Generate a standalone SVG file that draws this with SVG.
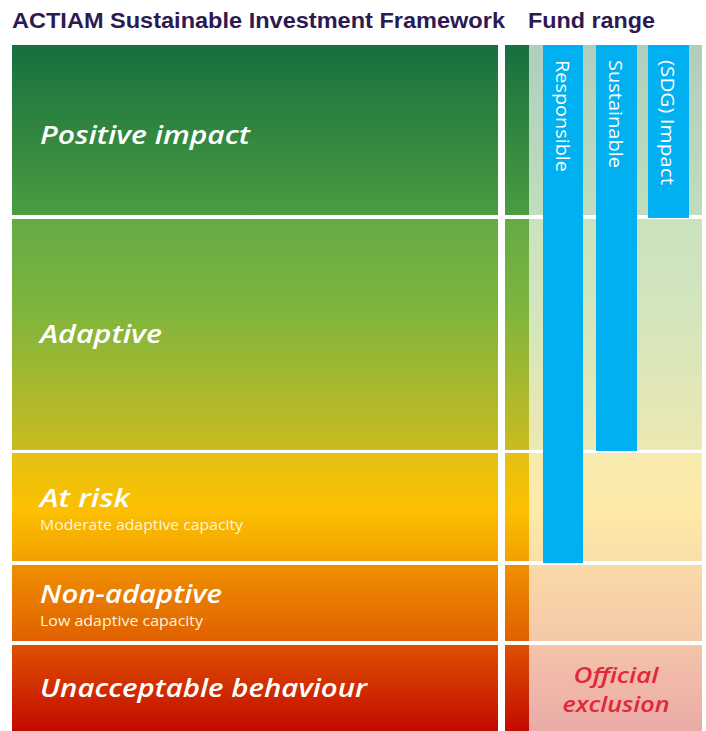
<svg xmlns="http://www.w3.org/2000/svg" width="706" height="731" viewBox="0 0 706 731">
<defs>
<linearGradient id="g" gradientUnits="userSpaceOnUse" x1="0" y1="45" x2="0" y2="731">
<stop offset="0" stop-color="#15703f"/>
<stop offset="0.248" stop-color="#4c9c40"/>
<stop offset="0.254" stop-color="#66aa44"/>
<stop offset="0.372" stop-color="#7ab440"/>
<stop offset="0.590" stop-color="#c8bc20"/>
<stop offset="0.595" stop-color="#e4c014"/>
<stop offset="0.678" stop-color="#fcc000"/>
<stop offset="0.752" stop-color="#f2a000"/>
<stop offset="0.758" stop-color="#f09000"/>
<stop offset="0.869" stop-color="#e06000"/>
<stop offset="0.875" stop-color="#de5000"/>
<stop offset="1" stop-color="#c20a00"/>
</linearGradient>
<style>
.hdr{font-family:"Liberation Sans",Arial,sans-serif;font-weight:bold;font-size:22px;fill:#2e1a52}
.lbl{font-family:"Open Sans","Liberation Sans",sans-serif;font-weight:600;font-style:italic;font-size:26px;fill:#ffffff}
.sub{font-family:"Open Sans","Liberation Sans",sans-serif;font-size:14px;fill:#fff4dc}
.bar{fill:#00b0f0}
.bt{font-family:"Open Sans","Liberation Sans",sans-serif;font-size:19px;fill:#ffffff}
.ex{font-family:"Open Sans","Liberation Sans",sans-serif;font-weight:600;font-style:italic;font-size:22px;fill:#e0283c}
.light{fill:#ffffff;opacity:0.66}
</style>
</defs>
<rect width="706" height="731" fill="#ffffff"/>
<text class="hdr" x="12" y="28" textLength="493" lengthAdjust="spacingAndGlyphs">ACTIAM Sustainable Investment Framework</text>
<text class="hdr" x="528" y="28" textLength="127" lengthAdjust="spacingAndGlyphs">Fund range</text>

<g id="row-positive-impact">
<rect x="12" y="45" width="486" height="170" fill="url(#g)"/>
<rect x="505" y="45" width="24" height="170" fill="url(#g)"/>
<rect x="529" y="45" width="173" height="170" fill="url(#g)"/>
<rect x="529" y="45" width="173" height="170" class="light"/>
<text class="lbl" x="40" y="144" textLength="210" lengthAdjust="spacingAndGlyphs">Positive impact</text>
</g>
<g id="row-adaptive">
<rect x="12" y="219" width="486" height="231" fill="url(#g)"/>
<rect x="505" y="219" width="24" height="231" fill="url(#g)"/>
<rect x="529" y="219" width="173" height="231" fill="url(#g)"/>
<rect x="529" y="219" width="173" height="231" class="light"/>
<text class="lbl" x="40" y="343" textLength="122" lengthAdjust="spacingAndGlyphs">Adaptive</text>
</g>
<g id="row-at-risk">
<rect x="12" y="453" width="486" height="108" fill="url(#g)"/>
<rect x="505" y="453" width="24" height="108" fill="url(#g)"/>
<rect x="529" y="453" width="173" height="108" fill="url(#g)"/>
<rect x="529" y="453" width="173" height="108" class="light"/>
<text class="lbl" x="40" y="507" textLength="90" lengthAdjust="spacingAndGlyphs">At risk</text>
<text class="sub" x="40" y="530" textLength="203" lengthAdjust="spacingAndGlyphs">Moderate adaptive capacity</text>
</g>
<g id="row-non-adaptive">
<rect x="12" y="565" width="486" height="76" fill="url(#g)"/>
<rect x="505" y="565" width="24" height="76" fill="url(#g)"/>
<rect x="529" y="565" width="173" height="76" fill="url(#g)"/>
<rect x="529" y="565" width="173" height="76" class="light"/>
<text class="lbl" x="40" y="603" textLength="182" lengthAdjust="spacingAndGlyphs">Non-adaptive</text>
<text class="sub" x="40" y="626" textLength="163" lengthAdjust="spacingAndGlyphs">Low adaptive capacity</text>
</g>
<g id="row-unacceptable">
<rect x="12" y="645" width="486" height="86" fill="url(#g)"/>
<rect x="505" y="645" width="24" height="86" fill="url(#g)"/>
<rect x="529" y="645" width="173" height="86" fill="url(#g)"/>
<rect x="529" y="645" width="173" height="86" class="light"/>
<text class="lbl" x="40" y="697" textLength="327" lengthAdjust="spacingAndGlyphs">Unacceptable behaviour</text>
<text class="ex" x="616" y="683" text-anchor="middle" textLength="85" lengthAdjust="spacingAndGlyphs">Official</text>
<text class="ex" x="616" y="712" text-anchor="middle" textLength="107" lengthAdjust="spacingAndGlyphs">exclusion</text>
</g>

<g id="fund-responsible">
<rect class="bar" x="543" y="45" width="40" height="518"/>
<text class="bt" transform="translate(556,60) rotate(90)" textLength="112" lengthAdjust="spacingAndGlyphs">Responsible</text>
</g>
<g id="fund-sustainable">
<rect class="bar" x="596" y="45" width="41" height="406"/>
<text class="bt" transform="translate(609,60) rotate(90)" textLength="108" lengthAdjust="spacingAndGlyphs">Sustainable</text>
</g>
<g id="fund-sdg-impact">
<rect class="bar" x="648" y="45" width="41" height="173"/>
<text class="bt" transform="translate(661,60) rotate(90)" textLength="125" lengthAdjust="spacingAndGlyphs">(SDG) Impact</text>
</g>
</svg>
